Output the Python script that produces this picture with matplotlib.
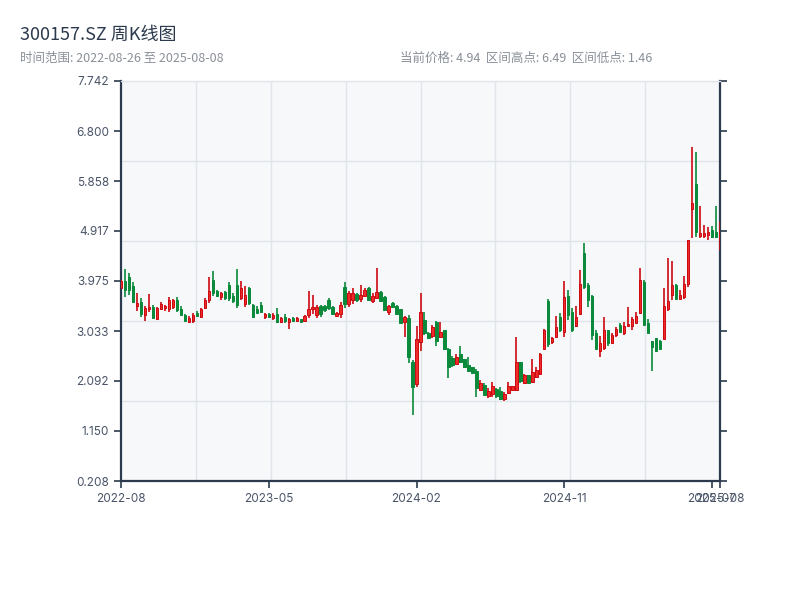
import matplotlib
matplotlib.use('Agg')
import matplotlib.pyplot as plt

# weekly candles, 151 bars from 2022-08-26 to 2025-08-08
opens = [3.85, 3.97, 4.05, 3.88, 3.50, 3.58, 3.33, 3.44, 3.48, 3.26,
         3.45, 3.46, 3.44, 3.48, 3.62, 3.44, 3.33, 3.20, 3.22, 3.38,
         3.30, 3.47, 3.62, 4.00, 3.79, 3.68, 3.76, 3.90, 3.70, 3.90,
         3.65, 3.55, 3.84, 3.52, 3.45, 3.52, 3.30, 3.36, 3.28, 3.36,
         3.21, 3.30, 3.20, 3.28, 3.22, 3.25, 3.22, 3.33, 3.44, 3.33,
         3.50, 3.50, 3.62, 3.48, 3.32, 3.35, 3.86, 3.55, 3.62, 3.73,
         3.64, 3.70, 3.84, 3.60, 3.66, 3.77, 3.68, 3.40, 3.56, 3.50,
         3.44, 3.20, 3.28, 2.45, 2.03, 2.83, 3.24, 3.00, 2.93, 3.20,
         2.92, 3.05, 2.70, 2.52, 2.42, 2.60, 2.50, 2.40, 2.35, 2.28,
         1.92, 2.02, 1.80, 1.85, 1.95, 1.90, 1.75, 1.87, 1.93, 1.93,
         2.45, 2.05, 2.20, 2.08, 2.16, 2.22, 2.70, 3.60, 2.82, 2.92,
         3.30, 3.02, 3.70, 3.40, 3.12, 3.35, 4.50, 3.90, 3.70, 3.00,
         2.65, 2.72, 3.05, 2.80, 2.95, 3.15, 3.00, 3.12, 3.13, 3.18,
         3.38, 3.95, 3.18, 2.84, 2.90, 2.85, 2.88, 3.45, 3.72, 3.90,
         3.63, 3.67, 3.92, 5.33, 5.80, 4.83, 4.83, 4.84, 4.93, 4.90,
         4.75]
highs = [3.99, 4.20, 4.12, 3.95, 3.75, 3.65, 3.50, 3.73, 3.52, 3.48,
         3.58, 3.52, 3.67, 3.64, 3.67, 3.50, 3.35, 3.31, 3.37, 3.41,
         3.47, 3.65, 4.05, 4.16, 3.81, 3.77, 3.79, 3.96, 3.75, 4.20,
         3.97, 3.88, 3.86, 3.54, 3.50, 3.58, 3.37, 3.37, 3.37, 3.47,
         3.30, 3.35, 3.28, 3.30, 3.30, 3.26, 3.34, 3.79, 3.71, 3.52,
         3.52, 3.52, 3.65, 3.50, 3.40, 3.58, 3.95, 3.79, 3.84, 3.74,
         3.90, 3.84, 3.86, 3.75, 4.22, 3.78, 3.69, 3.52, 3.58, 3.52,
         3.45, 3.31, 3.33, 2.49, 3.13, 3.75, 3.40, 3.02, 3.14, 3.22,
         3.20, 3.05, 2.71, 2.56, 2.60, 2.75, 2.51, 2.54, 2.35, 2.32,
         2.11, 2.05, 1.96, 2.07, 1.96, 1.98, 1.88, 2.07, 2.00, 2.92,
         2.45, 2.22, 2.21, 2.51, 2.35, 2.62, 3.07, 3.64, 2.92, 3.32,
         3.37, 3.97, 3.80, 3.47, 3.50, 4.18, 4.69, 3.94, 3.71, 3.05,
         2.94, 3.30, 3.05, 3.00, 3.11, 3.18, 3.20, 3.48, 3.30, 3.40,
         4.22, 3.99, 3.26, 2.84, 2.90, 2.86, 3.84, 4.41, 4.35, 3.92,
         3.81, 4.07, 4.75, 6.49, 6.40, 5.39, 5.03, 4.99, 5.01, 5.39,
         5.08]
lows = [3.83, 3.67, 3.71, 3.56, 3.41, 3.30, 3.22, 3.39, 3.26, 3.24,
        3.43, 3.41, 3.39, 3.45, 3.39, 3.31, 3.20, 3.18, 3.18, 3.30,
        3.28, 3.45, 3.56, 3.70, 3.67, 3.62, 3.62, 3.60, 3.56, 3.47,
        3.62, 3.48, 3.52, 3.28, 3.37, 3.37, 3.26, 3.28, 3.24, 3.18,
        3.19, 3.18, 3.07, 3.20, 3.20, 3.19, 3.20, 3.28, 3.35, 3.28,
        3.30, 3.40, 3.43, 3.33, 3.30, 3.28, 3.47, 3.49, 3.54, 3.58,
        3.58, 3.67, 3.60, 3.56, 3.64, 3.58, 3.41, 3.33, 3.46, 3.35,
        3.16, 2.92, 2.43, 1.46, 1.98, 2.66, 2.96, 2.88, 2.90, 2.75,
        2.90, 2.68, 2.15, 2.35, 2.41, 2.43, 2.34, 2.28, 2.24, 1.79,
        1.92, 1.83, 1.77, 1.79, 1.77, 1.73, 1.71, 1.85, 1.92, 1.90,
        2.05, 2.03, 2.05, 2.05, 2.15, 2.20, 2.69, 2.73, 2.78, 2.90,
        3.01, 2.92, 3.24, 3.01, 3.10, 3.33, 3.82, 3.48, 2.86, 2.69,
        2.54, 2.67, 2.75, 2.80, 2.92, 3.01, 2.96, 3.10, 3.05, 3.18,
        3.37, 3.14, 2.99, 2.28, 2.63, 2.69, 2.88, 3.41, 3.62, 3.63,
        3.63, 3.63, 3.87, 4.79, 4.80, 4.78, 4.79, 4.75, 4.78, 4.78,
        4.56]
closes = [3.97, 3.80, 3.80, 3.58, 3.57, 3.36, 3.46, 3.48, 3.28, 3.46,
          3.55, 3.50, 3.62, 3.62, 3.42, 3.33, 3.22, 3.28, 3.33, 3.31,
          3.44, 3.62, 3.78, 3.75, 3.70, 3.74, 3.65, 3.66, 3.60, 3.52,
          3.85, 3.72, 3.56, 3.30, 3.38, 3.40, 3.35, 3.30, 3.34, 3.20,
          3.27, 3.22, 3.26, 3.22, 3.28, 3.20, 3.31, 3.45, 3.49, 3.48,
          3.35, 3.42, 3.46, 3.35, 3.38, 3.52, 3.55, 3.75, 3.75, 3.62,
          3.72, 3.80, 3.62, 3.70, 3.77, 3.60, 3.42, 3.50, 3.48, 3.36,
          3.18, 3.29, 2.55, 1.98, 2.88, 3.39, 3.00, 2.90, 3.10, 2.85,
          3.02, 2.70, 2.35, 2.40, 2.55, 2.45, 2.35, 2.28, 2.25, 1.96,
          2.05, 1.83, 1.90, 2.00, 1.80, 1.76, 1.85, 2.00, 1.99, 2.45,
          2.10, 2.20, 2.06, 2.26, 2.30, 2.60, 3.05, 2.78, 2.90, 3.10,
          3.05, 3.67, 3.33, 3.05, 3.30, 3.92, 3.86, 3.62, 2.95, 2.70,
          2.80, 3.05, 2.80, 2.95, 3.08, 3.02, 3.13, 3.17, 3.25, 3.32,
          4.00, 3.15, 3.00, 2.73, 2.65, 2.70, 3.50, 3.60, 3.90, 3.63,
          3.72, 3.92, 4.75, 5.45, 4.90, 4.88, 4.88, 4.90, 4.80, 4.80,
          4.94]

tick_idx = [0, 37, 74, 111, 148, 150]
tick_labels = ['2022-08', '2023-05', '2024-02', '2024-11', '2025-07', '2025-08']
y_ticks = [0.208, 1.150, 2.092, 3.033, 3.975, 4.917, 5.858, 6.800, 7.742]

title = '300157.SZ 周K线图'
subtitle = '时间范围: 2022-08-26 至 2025-08-08'
info = '当前价格: 4.94  区间高点: 6.49  区间低点: 1.46'

up_edge, up_fill, down_col = '#cc0a10', '#ee2a2a', '#0a8a3a'
axis_col, text_col = '#2c3a4d', '#4a5568'

plt.rcParams['font.family'] = ['Noto Sans CJK SC', 'DejaVu Sans']

fig = plt.figure(figsize=(8, 6), dpi=100)
ax = fig.add_axes([121 / 800, 1 - 481 / 600, 599 / 800, 400 / 600])
ax.set_facecolor('#f6f8fa')

n = len(closes)
ax.set_xlim(0, n - 1)
ax.set_ylim(y_ticks[0], y_ticks[-1])

# background grid (independent of the ticks)
for k in range(1, 5):
    ax.axhline(y_ticks[0] + k * (y_ticks[-1] - y_ticks[0]) / 5,
               color='#e1e4e9', lw=1, zorder=0)
for k in range(1, 8):
    ax.axvline(k * (n - 1) / 8, color='#e1e4e9', lw=1, zorder=0)

# candles
for i, (o, h, l, c) in enumerate(zip(opens, highs, lows, closes)):
    up = c >= o
    edge = up_edge if up else down_col
    fill = up_fill if up else down_col
    ax.vlines(i, l, h, color=edge, lw=1.2, zorder=3)
    ax.bar(i, max(abs(c - o), 0.012), bottom=min(o, c), width=0.6,
           color=fill, edgecolor=edge, linewidth=0.7, zorder=4)

ax.set_yticks(y_ticks)
ax.set_yticklabels(['%.3f' % v for v in y_ticks])
ax.set_xticks(tick_idx)
ax.set_xticklabels(tick_labels)
ax.tick_params(axis='both', colors=axis_col, labelcolor=text_col,
               labelsize=8.5, length=5, width=1.2)
ax.tick_params(axis='y', right=True, labelright=False)
for lab in ax.get_xticklabels() + ax.get_yticklabels():
    lab.set_family(['Inter', 'Noto Sans CJK SC'])

for s in ['left', 'bottom', 'right']:
    ax.spines[s].set_color(axis_col)
    ax.spines[s].set_linewidth(1.6)
ax.spines['top'].set_color('#e1e4e9')
ax.spines['top'].set_linewidth(1)

fig.text(20 / 800, 1 - 35 / 600, title, fontsize=13, color='#2c3a4d', va='center')
fig.text(20 / 800, 1 - 58 / 600, subtitle, fontsize=9, color='#8a9099', va='center')
fig.text(400 / 800, 1 - 58 / 600, info, fontsize=9, color='#8a9099', va='center')

fig.savefig('out.png', dpi=100)
